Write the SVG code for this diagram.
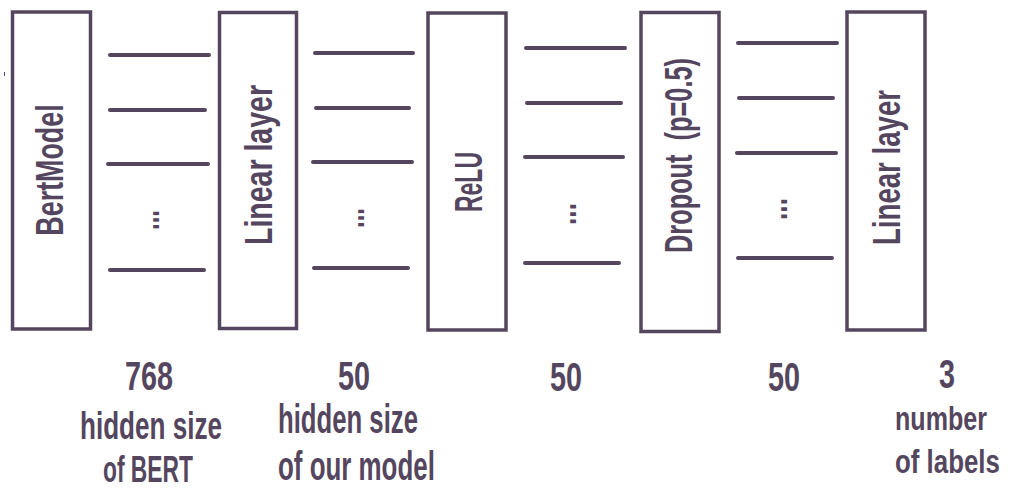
<svg xmlns="http://www.w3.org/2000/svg" width="1010" height="490" viewBox="0 0 1010 490">
  <style>
    .box { fill: #ffffff; stroke: #55465f; stroke-width: 3.5; }
    .unit { stroke: #55465f; stroke-width: 4; stroke-linecap: round; }
    .lbl { font-family: "Liberation Sans", Arial, sans-serif; font-weight: bold; fill: #55465f; }
    .mid { text-anchor: middle; }
    .layer { font-size: 38px; }
    .num { font-size: 40px; }
    .cap { font-size: 41px; }
    .cap-sm { font-size: 33px; }
    .dots { font-size: 38px; }
  </style>
  <rect width="1010" height="490" fill="#ffffff"/>
  <line x1="4.5" y1="72" x2="4.5" y2="76" stroke="#55465f" stroke-width="1"/>

  <!-- layer boxes; labels are narrowed with a horizontal scale -->
  <g id="bert-model">
    <rect class="box" x="12.5" y="12" width="78" height="317"/>
    <text class="lbl layer mid" transform="translate(63,170) rotate(-90) scale(0.707,1)">BertModel</text>
  </g>
  <g id="linear-1">
    <rect class="box" x="219.5" y="12.5" width="77" height="316"/>
    <text class="lbl layer mid" transform="translate(272,165) rotate(-90) scale(0.75,1)">Linear layer</text>
  </g>
  <g id="relu">
    <rect class="box" x="428" y="13" width="78" height="317"/>
    <text class="lbl layer mid" transform="translate(482,182) rotate(-90) scale(0.605,1)">ReLU</text>
  </g>
  <g id="dropout">
    <rect class="box" x="641" y="12.5" width="78" height="319"/>
    <text class="lbl layer mid" transform="translate(692,155.5) rotate(-90) scale(0.667,1)" xml:space="preserve">Dropout  (p=0.5)</text>
  </g>
  <g id="linear-2">
    <rect class="box" x="847" y="12" width="78" height="318"/>
    <text class="lbl layer mid" transform="translate(900,167.5) rotate(-90) scale(0.727,1)">Linear layer</text>
  </g>

  <!-- hidden units between layers -->
  <g id="connectors">
    <g id="units-768">
      <line class="unit" x1="110" y1="55" x2="209" y2="55"/>
      <line class="unit" x1="110" y1="110" x2="205" y2="110"/>
      <line class="unit" x1="108" y1="164" x2="208" y2="164"/>
      <line class="unit" x1="110" y1="270" x2="204" y2="270"/>
      <text class="lbl dots mid" transform="translate(159,220) rotate(-90) scale(0.63,1)">...</text>
    </g>
    <g id="units-50-a">
      <line class="unit" x1="315" y1="53" x2="413" y2="53"/>
      <line class="unit" x1="316" y1="108" x2="409" y2="108"/>
      <line class="unit" x1="313" y1="162" x2="412" y2="162"/>
      <line class="unit" x1="314" y1="268" x2="408" y2="268"/>
      <text class="lbl dots mid" transform="translate(364,218) rotate(-90) scale(0.63,1)">...</text>
    </g>
    <g id="units-50-b">
      <line class="unit" x1="526" y1="48" x2="625" y2="48"/>
      <line class="unit" x1="527" y1="103" x2="621" y2="103"/>
      <line class="unit" x1="525" y1="157" x2="623" y2="157"/>
      <line class="unit" x1="525" y1="263" x2="619" y2="263"/>
      <text class="lbl dots mid" transform="translate(576,214) rotate(-90) scale(0.69,1)">...</text>
    </g>
    <g id="units-50-c">
      <line class="unit" x1="738" y1="43" x2="837" y2="43"/>
      <line class="unit" x1="739" y1="98" x2="833" y2="98"/>
      <line class="unit" x1="737" y1="153" x2="836" y2="153"/>
      <line class="unit" x1="738" y1="258" x2="832" y2="258"/>
      <text class="lbl dots mid" transform="translate(787,209) rotate(-90) scale(0.69,1)">...</text>
    </g>
  </g>

  <!-- size captions -->
  <g id="caption-768">
    <text class="lbl num mid" transform="translate(149,390) scale(0.72,1)">768</text>
    <text class="lbl mid" font-size="39" transform="translate(151,439) scale(0.669,1)">hidden size</text>
    <text class="lbl mid" font-size="37" transform="translate(148,482) scale(0.617,1)">of BERT</text>
  </g>
  <g id="caption-50-a">
    <text class="lbl num mid" transform="translate(354,390) scale(0.72,1)">50</text>
    <text class="lbl cap" transform="translate(278,433) scale(0.627,1)">hidden size</text>
    <text class="lbl cap" transform="translate(278,480) scale(0.632,1)">of our model</text>
  </g>
  <g id="caption-50-b">
    <text class="lbl num mid" transform="translate(566,391) scale(0.72,1)">50</text>
  </g>
  <g id="caption-50-c">
    <text class="lbl num mid" transform="translate(784,391) scale(0.72,1)">50</text>
  </g>
  <g id="caption-3">
    <text class="lbl num mid" transform="translate(947,388) scale(0.72,1)">3</text>
    <text class="lbl cap-sm" transform="translate(895,430) scale(0.76,1)">number</text>
    <text class="lbl cap-sm" transform="translate(895,473) scale(0.784,1)">of labels</text>
  </g>
</svg>
